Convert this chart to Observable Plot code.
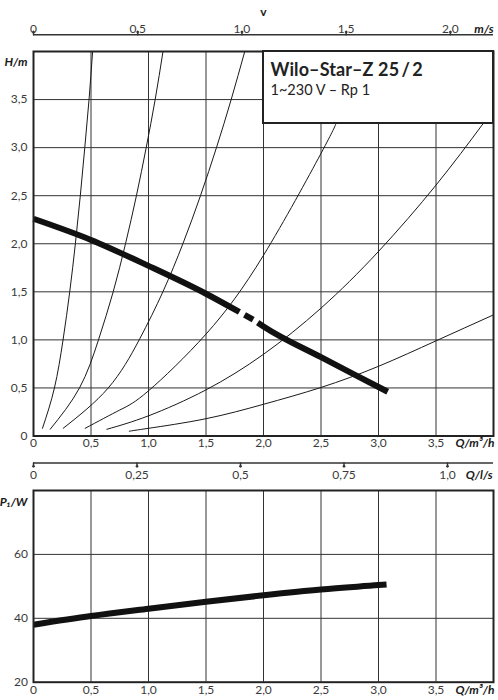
<!DOCTYPE html>
<html><head><meta charset="utf-8">
<script src="https://cdn.jsdelivr.net/npm/d3@7"></script>
<script src="https://cdn.jsdelivr.net/npm/@observablehq/plot@0.6"></script>
<style>
body{margin:0;background:#fff;font-family:Lato,"Open Sans",sans-serif;}
#wrap{position:relative;width:498px;height:700px;overflow:hidden;}
#wrap svg{display:block;overflow:visible;}
#box{position:absolute;left:261.5px;top:50px;width:228px;height:70px;border:2px solid #222;background:#fff;}
#t1{position:absolute;left:7px;top:8px;font-weight:700;font-size:18px;line-height:18px;color:#222;white-space:nowrap;letter-spacing:0.1px;}
#t2{position:absolute;left:7px;top:31px;font-size:14.5px;line-height:14.5px;color:#222;white-space:nowrap;}
</style></head>
<body>
<div id="wrap">
  <div id="top"></div>
  <div id="bot"></div>
  <div id="box"><div id="t1">Wilo–Star–Z 25&#8201;/&#8201;2</div><div id="t2">1~230 V – Rp 1</div></div>
</div>
<script>
// ---- data ----
const qTicks = [0, 0.5, 1.0, 1.5, 2.0, 2.5, 3.0, 3.5];
const qLabels = ["0", "0,5", "1,0", "1,5", "2,0", "2,5", "3,0", "3,5"];
const hTicks = [0, 0.5, 1.0, 1.5, 2.0, 2.5, 3.0, 3.5];
const hLabels = ["0", "0,5", "1,0", "1,5", "2,0", "2,5", "3,0", "3,5"];
const vTicks = [0, 0.5, 1.0, 1.5, 2.0];          // m/s
const vLabels = ["0", "0,5", "1,0", "1,5", "2,0"];
const vPerQ = 0.5517;                              // m/s per m³/h
const lsTicks = [0, 0.25, 0.5, 0.75, 1.0];         // l/s
const lsLabels = ["0", "0,25", "0,5", "0,75", "1,0"];
const pTicks = [20, 40, 60];
const pLabels = ["20", "40", "60"];

// system curves [Q m³/h, H m]
const curve1 = [[0.078,0.08],[0.182,0.5],[0.257,1.0],[0.315,1.5],[0.364,2.0],[0.407,2.5],[0.446,3.0],[0.483,3.5],[0.514,4.0]];
const curve2 = [[0.145,0.07],[0.40,0.5],[0.565,1.0],[0.693,1.5],[0.80,2.0],[0.895,2.5],[0.98,3.0],[1.058,3.5],[1.126,4.0]];
const curve3 = [[0.258,0.08],[0.65,0.5],[0.919,1.0],[1.125,1.5],[1.299,2.0],[1.452,2.5],[1.591,3.0],[1.719,3.5],[1.837,4.0]];
const curve4 = [[0.449,0.08],[0.75,0.27],[1.0,0.47],[1.5,1.06],[2.0,1.88],[2.5,2.94],[2.63,3.25]];
const curve5 = [[0.638,0.07],[1.0,0.21],[1.5,0.48],[2.0,0.85],[2.5,1.33],[3.0,1.92],[3.5,2.61],[3.91,3.25]];
const curve6 = [[0.833,0.05],[1.0,0.08],[1.5,0.18],[2.0,0.33],[2.5,0.505],[3.0,0.725],[3.5,0.99],[4.0,1.26]];

// pump curve H(Q), with a dashed interruption
const pumpQ = [0, 0.5, 1.0, 1.5, 1.79, 1.835, 1.91, 1.95, 2.0, 2.5, 3.0, 3.08];
const pumpH = [2.26, 2.04, 1.77, 1.48, 1.29, 1.26, 1.21, 1.18, 1.14, 0.82, 0.51, 0.46];
const pumpSeg = [0, 0, 0, 0, 0, 1, 1, 2, 2, 2, 2, 2];

// power curve P1(Q)
const powQ = [0, 0.5, 1.0, 1.5, 2.0, 2.5, 3.0, 3.07];
const powP = [38.0, 40.7, 43.0, 45.2, 47.2, 49.0, 50.4, 50.6];

// ---- build ----
const sysData = [curve1, curve2, curve3, curve4, curve5, curve6]
  .flatMap((c, k) => c.map(([q, h]) => ({q, h, k})));
const pumpData = pumpQ.map((q, i) => ({q, h: pumpH[i], s: pumpSeg[i]}));
const powData = powQ.map((q, i) => ({q, p: powP[i]}));
const qT = qTicks.map((v, i) => ({v, l: qLabels[i]}));
const hT = hTicks.map((v, i) => ({v, l: hLabels[i]}));
const vT = vTicks.map((v, i) => ({x: v / vPerQ, l: vLabels[i]}));
const lsT = lsTicks.map((v, i) => ({x: v * 3.6, l: lsLabels[i]}));
const pT = pTicks.map((v, i) => ({v, l: pLabels[i]}));

const grid = "#333", ink = "#1a1a1a", lab = "#3a3a3a";
const font = {fontFamily: "Lato, 'Open Sans', sans-serif", fontSize: "12px", background: "#fff", overflow: "visible"};
const unit = {textAnchor: "end", fontWeight: "bold", fontStyle: "italic", fill: ink, text: d => d};

const topPlot = Plot.plot({
  width: 498, height: 488,
  marginLeft: 33, marginRight: 5, marginTop: 51, marginBottom: 52.5,
  x: {domain: [0, 4], axis: null}, y: {domain: [0, 4], axis: null},
  style: font,
  marks: [
    Plot.ruleX(qTicks.slice(1), {stroke: grid, strokeWidth: 1}),
    Plot.ruleY(hTicks.slice(1), {stroke: grid, strokeWidth: 1}),
    Plot.line(sysData, {x: "q", y: "h", z: "k", curve: "natural", stroke: ink, strokeWidth: 1}),
    Plot.line(pumpData, {x: "q", y: "h", z: "s", curve: "monotone-x", stroke: "#111", strokeWidth: 6, strokeLinecap: "butt"}),
    Plot.frame({stroke: "#222", strokeWidth: 2}),
    // left H labels
    Plot.text(hT, {y: "v", text: "l", frameAnchor: "left", dx: -6, textAnchor: "end", fill: lab}),
    Plot.text(["H/m"], {...unit, frameAnchor: "top-left", dx: -6, dy: 6}),
    // bottom Q labels
    Plot.text(qT, {x: "v", text: "l", frameAnchor: "bottom", dy: 11.3, fill: lab}),
    Plot.text(["Q/m³/h"], {...unit, frameAnchor: "bottom-right", dx: 1, dy: 11.3}),
    // l/s axis
    Plot.ruleY([0], {dy: 27, stroke: grid, strokeWidth: 1.5}),
    Plot.vector(lsT, {x: "x", frameAnchor: "bottom", dy: 27, length: 4, rotate: 180, anchor: "start", stroke: grid}),
    Plot.text(lsT, {x: "x", text: "l", frameAnchor: "bottom", dy: 42.5, fill: lab}),
    Plot.text(["Q/l/s"], {...unit, frameAnchor: "bottom-right", dx: -1, dy: 42.5}),
    // v axis (top)
    Plot.ruleY([4], {dy: -16.7, stroke: grid, strokeWidth: 1.5}),
    Plot.vector(vT, {x: "x", frameAnchor: "top", dy: -16.7, length: 3.5, rotate: 0, anchor: "start", stroke: grid}),
    Plot.text(vT, {x: "x", text: "l", frameAnchor: "top", dy: -27, fill: lab}),
    Plot.text(["m/s"], {...unit, frameAnchor: "top-right", dx: 0, dy: -27}),
    Plot.text(["v"], {frameAnchor: "top", dy: -44.3, text: d => d, fontWeight: "bold", fill: ink})
  ]
});
document.getElementById("top").append(topPlot);

const botPlot = Plot.plot({
  width: 498, height: 212,
  marginLeft: 33, marginRight: 5, marginTop: 2, marginBottom: 18.3,
  x: {domain: [0, 4], axis: null}, y: {domain: [20, 80], axis: null},
  style: font,
  marks: [
    Plot.ruleX(qTicks.slice(1), {stroke: grid, strokeWidth: 1}),
    Plot.ruleY(pTicks.slice(1), {stroke: grid, strokeWidth: 1}),
    Plot.line(powData, {x: "q", y: "p", curve: "monotone-x", stroke: "#111", strokeWidth: 6, strokeLinecap: "butt"}),
    Plot.frame({stroke: "#222", strokeWidth: 2}),
    Plot.text(pT, {y: "v", text: "l", frameAnchor: "left", dx: -5.5, textAnchor: "end", fill: lab}),
    Plot.text(["P₁/W"], {...unit, frameAnchor: "top-left", dx: -6, dy: 6.5}),
    Plot.text(qT, {x: "v", text: "l", frameAnchor: "bottom", dy: 11.3, fill: lab}),
    Plot.text(["Q/m³/h"], {...unit, frameAnchor: "bottom-right", dx: 1, dy: 11.3})
  ]
});
document.getElementById("bot").append(botPlot);
</script>
</body></html>
